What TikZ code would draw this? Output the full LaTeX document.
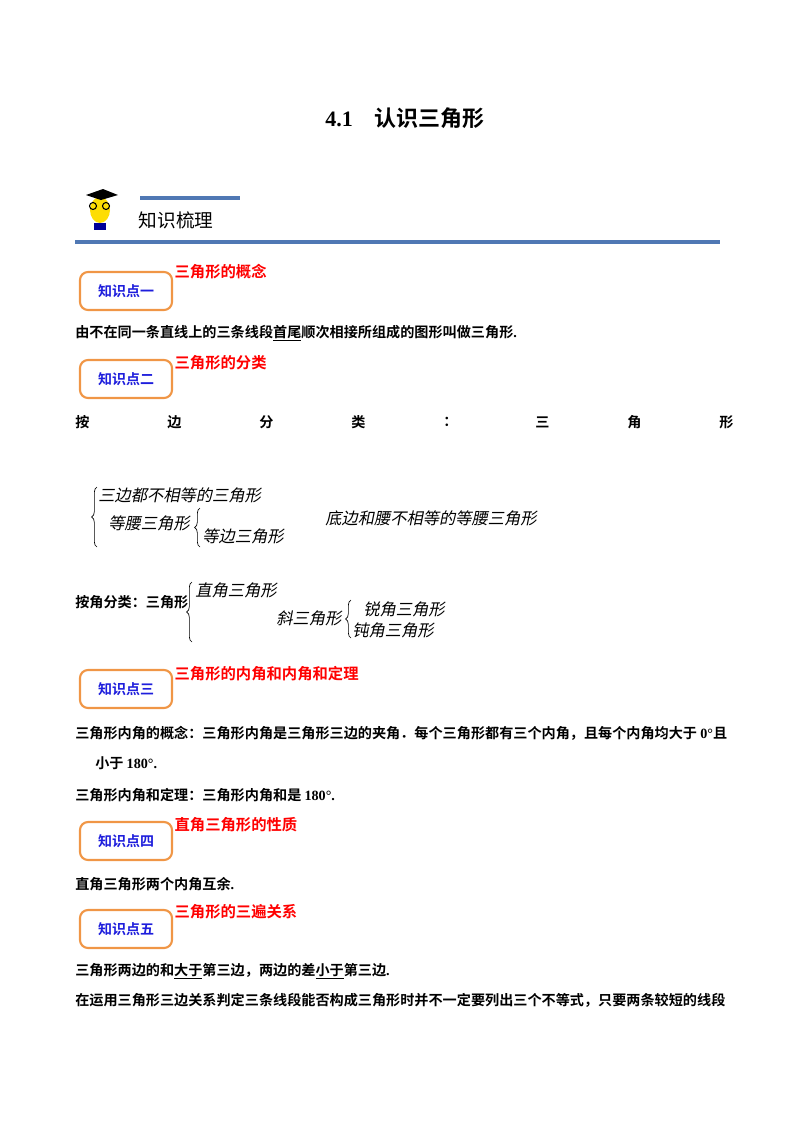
\documentclass[tikz,border=0pt]{standalone}
\usepackage{fontspec}
\setmainfont{Noto Sans CJK SC}[BoldFont={* Bold}]
\newfontfamily\cjkit{Noto Sans CJK SC}[FakeSlant=0.2]
\newfontfamily\numf{Liberation Serif}[BoldFont={* Bold}]
\definecolor{kbox}{RGB}{240,150,70}
\definecolor{kblue}{RGB}{30,30,220}
\definecolor{bar}{RGB}{80,120,180}
\tikzset{
 kbox/.style={draw=kbox,line width=1.6pt,rounded corners=6pt,minimum width=69pt,minimum height=28.5pt,font=\bfseries\fontsize{10.5}{12}\selectfont,text=kblue},
 khead/.style={anchor=west,text=red,font=\bfseries\fontsize{11.5}{13}\selectfont,inner sep=1pt},
 body/.style={anchor=west,font=\bfseries\fontsize{10.6}{12}\selectfont,inner sep=0pt},
 it/.style={anchor=west,font=\cjkit\fontsize{12.2}{14}\selectfont,inner sep=0pt},
 brc/.style={decorate,decoration={brace,amplitude=4pt},line width=0.5pt}
}
\usetikzlibrary{decorations.pathreplacing}
\begin{document}
\begin{tikzpicture}[x=0.75pt,y=-0.75pt]
\useasboundingbox (0,0) rectangle (800,1132);
\node (title) at (405,118) {\bfseries\fontsize{16.5}{18}\selectfont{\numf 4.1}\quad 认识三角形};
% mascot
\fill[yellow!80!orange] (100,210) ellipse (10 and 13);
\draw[thick] (93,206) circle (3.5) (106,206) circle (3.5);
\fill[black] (86,195) -- (103,189) -- (118,195) -- (101,200) -- cycle;
\fill[blue!60!black] (94,223) rectangle (106,230);
\draw[bar,line width=3pt] (140,198) -- (240,198);
\node[anchor=west,font=\fontsize{14}{16}\selectfont] (kl) at (134,220) {知识梳理};
\draw[bar,line width=3.5pt] (75,242) -- (720,242);
% 1
\node[kbox] (b1) at (126,291) {知识点一};
\node[khead] (h1) at (173,272) {三角形的概念};
\node[body] (t1) at (75,333) {由不在同一条直线上的三条线段\underline{首尾}顺次相接所组成的图形叫做三角形{\numf .}};
% 2
\node[kbox] (b2) at (126,379) {知识点二};
\node[khead] (h2) at (173,363) {三角形的分类};
\foreach \c [count=\i from 0] in {按,边,分,类,：,三,角,形}
  \node[body] (s\i) at (75+\i*92,422) {\c};
\draw[brc] (97,547) -- (97,487);
\node[it] (a1) at (98,495) {三边都不相等的三角形};
\node[it] (a2) at (108,523) {等腰三角形};
\draw[brc] (200,547) -- (200,508);
\node[it] (a3) at (202,536) {等边三角形};
\node[it] (a4) at (325,518) {底边和腰不相等的等腰三角形};
\node[body] (j0) at (75,602) {按角分类：三角形};
\draw[brc] (192,642) -- (192,582);
\node[it] (j1) at (195,590) {直角三角形};
\node[it] (j2) at (276,618) {斜三角形};
\draw[brc] (351,638) -- (351,600);
\node[it] (j3) at (363,609) {锐角三角形};
\node[it] (j4) at (352,630) {钝角三角形};
% 3
\node[kbox] (b3) at (126,689) {知识点三};
\node[khead] (h3) at (173,674) {三角形的内角和内角和定理};
\node[body] (t3) at (75,733) {三角形内角的概念：三角形内角是三角形三边的夹角．每个三角形都有三个内角，且每个内角均大于 {\numf 0°}且};
\node[body] (t3b) at (95,763) {小于 {\numf 180°.}};
\node[body] (t3c) at (75,795) {三角形内角和定理：三角形内角和是 {\numf 180°.}};
% 4
\node[kbox] (b4) at (126,841) {知识点四};
\node[khead] (h4) at (173,825) {直角三角形的性质};
\node[body] (t4) at (75,884) {直角三角形两个内角互余{\numf .}};
% 5
\node[kbox] (b5) at (126,929) {知识点五};
\node[khead] (h5) at (173,912) {三角形的三遍关系};
\node[body] (t5) at (75,971) {三角形两边的和\underline{大于}第三边，两边的差\underline{小于}第三边{\numf .}};
\node[body] (t6) at (75,1000) {在运用三角形三边关系判定三条线段能否构成三角形时并不一定要列出三个不等式，只要两条较短的线段};
\end{tikzpicture}
\end{document}
